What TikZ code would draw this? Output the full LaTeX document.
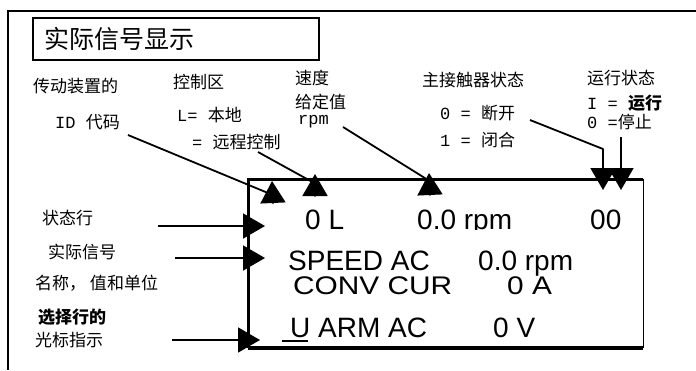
\documentclass[tikz,border=0pt]{standalone}
\usepackage{fontspec}
\setsansfont{Liberation Sans}
\newfontfamily\cjk{Noto Sans CJK SC}
\newfontfamily\mono{Liberation Mono}
\newfontfamily\widesans{Liberation Sans}[FakeStretch=1.17]
\usetikzlibrary{arrows.meta}

\begin{document}
\begin{tikzpicture}[x=1pt,y=-1pt,>={Triangle[length=22pt,width=25pt]},
    lbl/.style={anchor=west,inner sep=0pt,font=\fontsize{17}{17}\selectfont\cjk},
    lcd/.style={anchor=base west,inner sep=0pt,font=\fontsize{28}{28}\selectfont\sffamily},
    conn/.style={->,line width=1.8pt,line join=round}]
    \useasboundingbox (0,0) rectangle (696,370);

    % outer frame, open at right and bottom
    \draw[line width=1.5pt] (8,370) -- (8,11) -- (696,11);
    \node[draw,line width=1.8pt,anchor=north west,minimum width=286pt,minimum height=42pt,
        text width=262pt,inner xsep=12pt,align=left,
        font=\fontsize{25}{25}\selectfont\cjk] (title) at (32,17) {实际信号显示};

    % labels above the display
    \node[lbl] (drive) at (33,86) {传动装置的};
    \node[lbl] (idcode) at (55,122) {{\mono ID }代码};
    \node[lbl] (ctrl) at (173,82) {控制区};
    \node[lbl] (local) at (177,115) {{\mono L= }本地};
    \node[lbl] (remote) at (192,142) {{\mono = }远程控制};
    \node[lbl] (speed) at (295,78) {速度};
    \node[lbl] (setval) at (295,102) {给定值};
    \node[lbl] (rpm) at (298,122) {{\mono rpm}};
    \node[lbl] (contactor) at (422,80) {主接触器状态};
    \node[lbl] (open) at (440,113) {{\mono 0 = }断开};
    \node[lbl] (closed) at (440,140) {{\mono 1 = }闭合};
    \node[lbl] (run) at (587,78) {运行状态};
    \node[lbl] (running) at (587,103) {{\mono I = }{\bfseries 运行}};
    \node[lbl] (stopped) at (587,122) {{\mono 0 =}停止};

    % labels left of the display
    \node[lbl] (status) at (42,218) {状态行};
    \node[lbl] (actual) at (48,252) {实际信号};
    \node[lbl] (nvu) at (35,283) {名称， 值和单位};
    \node[lbl,font=\fontsize{17}{17}\selectfont\cjk\bfseries] (select) at (38,317) {选择行的};
    \node[lbl] (cursor) at (35,340) {光标指示};

    % display panel
    \node[minimum width=395pt,minimum height=169pt,anchor=north west,inner sep=0pt] (disp) at (248,179) {};
    \draw[line width=3pt] (disp.south west) -- (disp.north west) -- (disp.north east);
    \draw[line width=1.2pt] (disp.north east) -- (disp.south east);
    \draw[line width=4pt] (disp.south west) -- (disp.south east);

    \begin{scope}
        \clip (250,190) rectangle (640,229.5);
        \node[lcd] (mode) at (305,229) {0 L};
        \node[lcd] (ref) at (417,229) {0.0 rpm};
        \node[lcd] (state) at (590,229) {00};
    \end{scope}
    \node[lcd] (sig1) at (288,270) {SPEED AC};
    \node[lcd] (val1) at (478,270) {0.0 rpm};
    \node[lcd,font=\fontsize{25.5}{25.5}\selectfont\widesans] (sig2) at (293,294) {CONV CUR};
    \node[lcd,font=\fontsize{25.5}{25.5}\selectfont\widesans] (val2) at (507,294) {0 A};
    \node[lcd] (sig3) at (290,337) {U ARM AC};
    \node[lcd] (val3) at (493,337) {0 V};
    \draw[line width=2pt] ([shift={(-8,4)}]sig3.base west) -- ++(26,0);

    % connectors
    \coordinate (idS) at (128,135);
    \coordinate (idA) at (268,193);
    \coordinate (idB) at (273,203);
    \coordinate (idT) at (272,181);
    \draw[conn] (idS) -- (idA) -- (idB) -- (idT);

    \coordinate (ctrlS) at (258,152);
    \coordinate (ctrlA) at (316,184);
    \coordinate (ctrlB) at (315,196);
    \coordinate (ctrlT) at (315,174);
    \draw[conn] (ctrlS) -- (ctrlA) -- (ctrlB) -- (ctrlT);

    \coordinate (refS) at (343,127);
    \coordinate (refA) at (428,180);
    \coordinate (refB) at (430,195);
    \coordinate (refT) at (429,173);
    \draw[conn] (refS) -- (refA) -- (refB) -- (refT);

    \coordinate (mcS) at (530,120);
    \coordinate (mcA) at (603,149);
    \coordinate (mcT) at (603,190);
    \draw[conn] (mcS) -- (mcA) -- (mcT);

    \coordinate (runS) at (621,137);
    \coordinate (runT) at (621,190);
    \draw[conn] (runS) -- (runT);

    \coordinate (statusS) at (158,226);
    \coordinate (statusT) at (265,226);
    \draw[conn] (statusS) -- (statusT);

    \coordinate (actualS) at (175,258);
    \coordinate (actualT) at (265,258);
    \draw[conn] (actualS) -- (actualT);

    \coordinate (cursorS) at (172,340);
    \coordinate (cursorT) at (260,340);
    \draw[conn] (cursorS) -- (cursorT);
\end{tikzpicture}
\end{document}
